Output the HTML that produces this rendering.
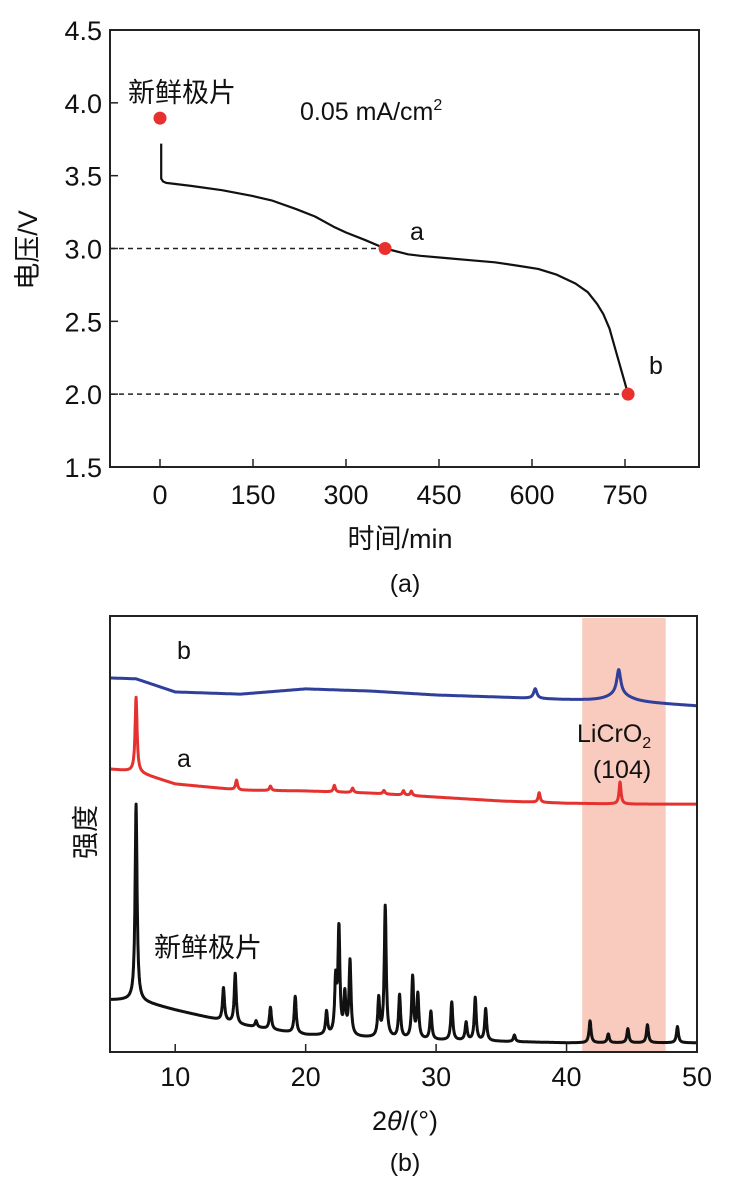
<!DOCTYPE html>
<html><head><meta charset="utf-8"><style>
html,body{margin:0;padding:0;background:#fff;}
svg{display:block;font-family:"Liberation Sans","Noto Sans CJK SC",sans-serif;}
</style></head><body>
<svg id="fig" width="731" height="1185" viewBox="0 0 731 1185" xmlns="http://www.w3.org/2000/svg">
<g id="ga"></g>
<g id="gb"></g>
</svg>
<script>
// ---------- Chart (a) data ----------
const aTimes = [2, 2, 5, 10, 50, 100, 150, 180, 220, 250, 280, 300, 330, 363, 400, 420, 460, 500, 540, 580, 610, 640, 670, 690, 705, 715, 725, 735, 745, 755];
const aVolts = [3.72, 3.48, 3.46, 3.45, 3.43, 3.40, 3.36, 3.33, 3.27, 3.22, 3.15, 3.11, 3.06, 3.00, 2.96, 2.95, 2.935, 2.92, 2.905, 2.88, 2.86, 2.82, 2.76, 2.70, 2.62, 2.55, 2.45, 2.30, 2.15, 2.00];
const aPointsT = [0, 363, 755];
const aPointsV = [3.895, 3.0, 2.0];
const aYTicks = [1.5, 2.0, 2.5, 3.0, 3.5, 4.0, 4.5];
const aXTicks = [0, 150, 300, 450, 600, 750];
const aDashV = [3.0, 2.0];

// ---------- Chart (b) data ----------
const bXTicks = [10, 20, 30, 40, 50];
const bBaseX = [5, 7, 10, 15, 20, 25, 30, 35, 40, 45, 50];
const blackBase = [11.9, 11.9, 9.6, 6.2, 3.9, 3.2, 2.7, 2.4, 2.1, 2.1, 2.1];
const redBase = [64.6, 64.0, 61.2, 59.8, 59.6, 59.1, 58.2, 57.3, 56.8, 56.6, 56.6];
const blueBase = [85.4, 85.2, 82.2, 81.7, 82.9, 82.4, 81.5, 81.0, 80.4, 79.9, 79.0];
const blackPeakPos = [7.0, 13.7, 14.6, 16.2, 17.3, 19.2, 21.6, 22.3, 22.55, 23.0, 23.4, 25.6, 26.1, 27.2, 28.2, 28.6, 29.6, 31.2, 32.3, 33.0, 33.8, 36.0, 41.8, 43.2, 44.7, 46.2, 48.5];
const blackPeakH = [44.7, 7.5, 11.4, 1.4, 5.0, 8.4, 5.3, 12, 24, 9, 17, 8.7, 30, 9.8, 14, 10, 6.4, 8.7, 4.1, 9.8, 7.3, 1.5, 5.0, 2.0, 3.2, 4.1, 3.7];
const redPeakPos = [7.0, 14.7, 17.3, 22.2, 23.6, 26.0, 27.5, 28.1, 37.9, 44.1];
const redPeakH = [17, 2.2, 1.0, 1.5, 1.0, 0.8, 1.0, 1.0, 2.2, 5.0];
const bluePeakPos = [37.6, 44.0, 44.0];
const bluePeakH = [2.2, 5.5, 1.8];
const bluePeakW = [0.15, 0.18, 1.0];

const NS = "http://www.w3.org/2000/svg";
function mk(parent, tag, attrs, text){
  const e = document.createElementNS(NS, tag);
  for (const k in attrs) e.setAttribute(k, attrs[k]);
  if (text !== undefined) e.textContent = text;
  parent.appendChild(e); return e;
}

// ===== Chart (a) =====
const ga = document.getElementById('ga');
const aL=110, aR=699, aT=30, aB=467;
const ax = t => 160 + (t) * (625-160)/750;
const ay = v => aB - (v-1.5) * (aB-aT)/3;
let fr = mk(ga,'rect',{x:aL,y:aT,width:aR-aL,height:aB-aT,fill:'none',stroke:'#222','stroke-width':2});
 
aYTicks.forEach(v=>{
  const l = mk(ga,'line',{x1:aL,x2:aL+8,y1:ay(v),y2:ay(v),stroke:'#222','stroke-width':1.5});
   
  const t = mk(ga,'text',{x:aL-8,y:ay(v)+10,'text-anchor':'end','font-size':27,fill:'#111'}, v.toFixed(1));
   
});
aXTicks.forEach(v=>{
  const l = mk(ga,'line',{x1:ax(v),x2:ax(v),y1:aB,y2:aB-8,stroke:'#222','stroke-width':1.5});
   
  const t = mk(ga,'text',{x:ax(v),y:aB+37,'text-anchor':'middle','font-size':27,fill:'#111'}, String(v));
   
});
aDashV.forEach((v,i)=>{
  const l = mk(ga,'line',{x1:aL,x2:ax(aPointsT[i+1]),y1:ay(v),y2:ay(v),stroke:'#222','stroke-width':1.5,'stroke-dasharray':'5,4'});
   
});
let dA = aTimes.map((t,i)=>(i?'L':'M')+ax(t).toFixed(1)+','+ay(aVolts[i]).toFixed(1)).join(' ');
let curve = mk(ga,'path',{d:dA,fill:'none',stroke:'#111','stroke-width':2.2,'stroke-linejoin':'round'});
 
aPointsT.forEach((t,i)=>{
  const c = mk(ga,'circle',{cx:ax(t),cy:ay(aPointsV[i]),r:6.5,fill:'#e8312f'});
   
});
[['新鲜极片',128,102,'start',27,'fresh-electrode-label'],['a',410,240,'start',25,'point-a-label'],['b',649,374,'start',25,'point-b-label'],['(a)',405,592,'middle',25,'panel-a-label'],['时间/min',400,548,'middle',27,'x-axis-title']].forEach(s=>{
  const t = mk(ga,'text',{x:s[1],y:s[2],'text-anchor':s[3],'font-size':s[4],fill:'#111'}, s[0]);
   
});
let cur = mk(ga,'text',{x:300,y:120,'font-size':25,fill:'#111'});
 
cur.innerHTML = '0.05 mA/cm<tspan dy="-10" font-size="16">2</tspan>';
let yta = mk(ga,'text',{x:0,y:0,'text-anchor':'middle','font-size':27,fill:'#111',transform:'translate(37,250) rotate(-90)'}, '电压/V');
 

// ===== Chart (b) =====
const gb = document.getElementById('gb');
const bL=110, bR=697, bT=616, bB=1052;
const bx = v => bL + (v-5)*(bR-bL)/45;
const by = I => bB - I*4.38;
let band = mk(gb,'rect',{x:bx(41.2),y:bT+2,width:bx(47.6)-bx(41.2),height:bB-bT-2,fill:'#f9cabe'});
 
function interp(xs, ys, x){
  for (let i=0;i<xs.length-1;i++) if (x<=xs[i+1]) return ys[i]+(ys[i+1]-ys[i])*(x-xs[i])/(xs[i+1]-xs[i]);
  return ys[ys.length-1];
}
function series(base, pos, h, w, color, name){
  let d='';
  for (let k=0;k<=2250;k++){
    const x = 5 + k*0.02;
    let I = interp(bBaseX, base, x);
    for (let j=0;j<pos.length;j++){ const ww = w? w[j] : 0.09; const u=(x-pos[j])/ww; I += h[j]/(1+u*u); }
    d += (k?'L':'M')+bx(x).toFixed(1)+','+by(I).toFixed(1);
  }
  const p = mk(gb,'path',{d:d,fill:'none',stroke:color,'stroke-width':3,'stroke-linejoin':'round'});
   
}
series(blueBase, bluePeakPos, bluePeakH, bluePeakW, '#2f3f9a', 'series-b-blue');
series(redBase, redPeakPos, redPeakH, null, '#e3322f', 'series-a-red');
series(blackBase, blackPeakPos, blackPeakH, null, '#111', 'series-fresh-black');
let frb = mk(gb,'rect',{x:bL,y:bT,width:bR-bL,height:bB-bT,fill:'none',stroke:'#222','stroke-width':2});
 
bXTicks.forEach(v=>{
  const l = mk(gb,'line',{x1:bx(v),x2:bx(v),y1:bB,y2:bB-8,stroke:'#222','stroke-width':1.5});
   
  const t = mk(gb,'text',{x:bx(v),y:bB+34,'text-anchor':'middle','font-size':27,fill:'#111'}, String(v));
   
});
[['b',184,659,'middle',25,'series-b-label'],['a',184,767,'middle',25,'series-a-label'],['新鲜极片',154,957,'start',27,'fresh-electrode-label'],['(104)',622,778,'middle',25,'peak-index-label'],['(b)',405,1171,'middle',25,'panel-b-label']].forEach(s=>{
  const t = mk(gb,'text',{x:s[1],y:s[2],'text-anchor':s[3],'font-size':s[4],fill:'#111'}, s[0]);
   
});
let lic = mk(gb,'text',{x:577,y:742,'font-size':25,fill:'#111'});
 
lic.innerHTML = 'LiCrO<tspan dy="6" font-size="16">2</tspan>';
let xtb = mk(gb,'text',{x:405,y:1130,'text-anchor':'middle','font-size':27,fill:'#111'});
 
xtb.innerHTML = '2<tspan font-style="italic">θ</tspan>/(°)';
let ytb = mk(gb,'text',{x:0,y:0,'text-anchor':'middle','font-size':27,fill:'#111',transform:'translate(95,832) rotate(-90)'}, '强度');
 
</script>
</body></html>
